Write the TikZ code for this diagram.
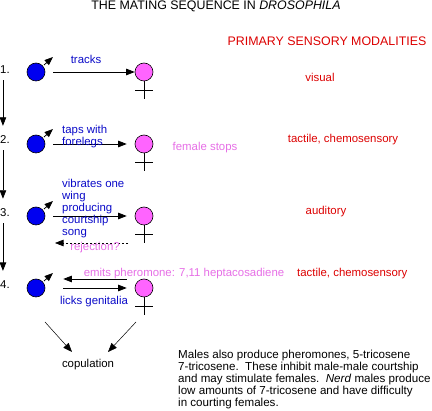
\documentclass[tikz,border=0pt]{standalone}
\usepackage{fontspec}
\setmainfont{Liberation Sans}
\usetikzlibrary{arrows.meta}
\definecolor{tblue}{RGB}{10,10,200}
\definecolor{tred}{RGB}{220,0,0}
\definecolor{tpink}{RGB}{230,110,230}
\definecolor{mblue}{RGB}{0,0,240}
\definecolor{fpink}{RGB}{255,100,255}
\begin{document}
\begin{tikzpicture}[x=1pt,y=-1pt,
  lbl/.style={inner sep=0pt, font=\fontsize{11.4}{12}\selectfont},
  caps/.style={inner sep=0pt, font=\fontsize{12.4}{14}\selectfont},
  male/.style={circle, draw, fill=mblue, minimum size=18pt, inner sep=0pt, line width=0.6pt},
  fem/.style={circle, draw, fill=fpink, minimum size=18pt, inner sep=0pt, line width=0.6pt},
  arr/.style={-{Triangle[length=8.5pt,width=6.5pt]}, line width=0.8pt},
  thinarr/.style={-{Triangle[length=9pt,width=7pt]}, line width=0.5pt},
  cross/.style={line width=0.8pt}]
\useasboundingbox (0,0) rectangle (432,411);

% title
\node[caps] (title) at (216,6) {THE MATING SEQUENCE IN \textit{DROSOPHILA}};
\node[caps, text=tred] (psm) at (327,41) {PRIMARY SENSORY MODALITIES};

% step numbers
\node[lbl, anchor=west] (n1) at (0,70) {1.};
\node[lbl, anchor=west] (n2) at (0,140) {2.};
\node[lbl, anchor=west] (n3) at (0,213) {3.};
\node[lbl, anchor=west] (n4) at (0,285) {4.};

% flies
\foreach \i/\y in {1/72,2/144,3/216,4/288}{
  \node[male] (m\i) at (36,\y) {};
  \node[fem] (f\i) at (144,\y) {};
  \draw[cross] (f\i.south) -- ++(0,18);
  \draw[cross] ([shift={(-9,9)}]f\i.south) -- ++(18,0);
  \draw[arr] ([shift={(8,-7)}]m\i.center) -- ([shift={(17,-15)}]m\i.center);
}

% vertical sequence arrows
\draw[arr] ([shift={(-2,6)}]n1.south) -- ([shift={(-2,-10)}]n2.north);
\draw[arr] ([shift={(-2,6)}]n2.south) -- ([shift={(-2,-10)}]n3.north);
\draw[arr] ([shift={(-2,6)}]n3.south) -- ([shift={(-2,-10)}]n4.north);

% horizontal arrows
\draw[arr, shorten <=8pt] (m1.east) -- (f1.west);
\draw[arr, shorten <=8pt, shorten >=8pt] (m2.east) -- (f2.west);
\draw[arr, shorten <=8pt, shorten >=8pt] (m3.east) -- (f3.west);
\draw[arr, dashed, line width=0.6pt, dash pattern=on 2.5pt off 1.5pt] ([shift={(-16,27)}]f3.center) -- ([shift={(19,27)}]m3.center);
\draw[arr, shorten <=8pt, shorten >=18pt] ([yshift=9pt]f4.west) -- ([yshift=9pt]m4.east);
\draw[arr, shorten <=18pt, shorten >=8pt] (m4.east) -- (f4.west);

% labels
\node[lbl, text=tblue] (l1) at (86,59) {tracks};
\node[lbl, text=tblue, anchor=north west, align=left] (l2) at (62,125) {taps with\\forelegs};
\node[lbl, text=tblue, anchor=north west, align=left] (l3) at (62,179) {vibrates one\\wing\\producing\\courtship\\song};
\node[lbl, text=tpink] (rej) at (95,248) {rejection?};
\node[lbl, text=tpink] (emit) at (184,274) {emits pheromone: 7,11 heptacosadiene};
\node[lbl, text=tblue] (lick) at (94,302) {licks genitalia};
\node[lbl, text=tpink] (stops) at (205,148) {female stops};

% modalities
\node[lbl, text=tred] (s1) at (320,77) {visual};
\node[lbl, text=tred] (s2) at (343,140) {tactile, chemosensory};
\node[lbl, text=tred] (s3) at (326,212) {auditory};
\node[lbl, text=tred, anchor=west] (s4) at (297,274) {tactile, chemosensory};

% copulation
\node[lbl] (cop) at (88,365) {copulation};
\draw[thinarr] ([shift={(9,34)}]m4.center) -- ([shift={(-16,-13)}]cop.center);
\draw[thinarr] ([shift={(-8,34)}]f4.center) -- ([shift={(20,-13)}]cop.center);

% note
\node[lbl, anchor=north west, align=left, font=\fontsize{11.6}{12}\selectfont] (note) at (178,350)
 {Males also produce pheromones, 5-tricosene\\
  7-tricosene.\ \ These inhibit male-male courtship\\
  and may stimulate females.\ \ \textit{Nerd} males produce\\
  low amounts of 7-tricosene and have difficulty\\
  in courting females.};
\end{tikzpicture}
\end{document}
